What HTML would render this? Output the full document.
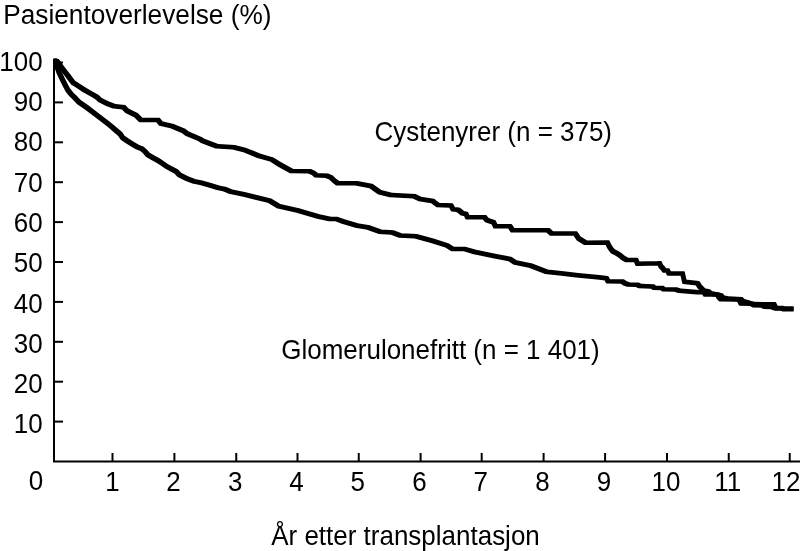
<!DOCTYPE html>
<html><head><meta charset="utf-8"><style>
html,body{margin:0;padding:0;background:#fff;}
svg{display:block;filter:grayscale(1);}
text{font-family:"Liberation Sans",sans-serif;font-size:26px;fill:#000;}
</style></head><body>
<svg width="800" height="551" viewBox="0 0 800 551">
<path d="M54,62.5 V461.5 H800" fill="none" stroke="#000" stroke-width="2"/>
<line x1="112.5" y1="461.5" x2="112.5" y2="453" stroke="#000" stroke-width="2"/>
<line x1="174.4" y1="461.5" x2="174.4" y2="453" stroke="#000" stroke-width="2"/>
<line x1="236.25" y1="461.5" x2="236.25" y2="453" stroke="#000" stroke-width="2"/>
<line x1="297.5" y1="461.5" x2="297.5" y2="453" stroke="#000" stroke-width="2"/>
<line x1="358.75" y1="461.5" x2="358.75" y2="453" stroke="#000" stroke-width="2"/>
<line x1="420.6" y1="461.5" x2="420.6" y2="453" stroke="#000" stroke-width="2"/>
<line x1="481.7" y1="461.5" x2="481.7" y2="453" stroke="#000" stroke-width="2"/>
<line x1="543.6" y1="461.5" x2="543.6" y2="453" stroke="#000" stroke-width="2"/>
<line x1="605.1" y1="461.5" x2="605.1" y2="453" stroke="#000" stroke-width="2"/>
<line x1="667" y1="461.5" x2="667" y2="453" stroke="#000" stroke-width="2"/>
<line x1="728.75" y1="461.5" x2="728.75" y2="453" stroke="#000" stroke-width="2"/>
<line x1="789.75" y1="461.5" x2="789.75" y2="453" stroke="#000" stroke-width="2"/>
<line x1="54" y1="421.6" x2="63" y2="421.6" stroke="#000" stroke-width="2"/>
<line x1="54" y1="381.7" x2="63" y2="381.7" stroke="#000" stroke-width="2"/>
<line x1="54" y1="341.8" x2="63" y2="341.8" stroke="#000" stroke-width="2"/>
<line x1="54" y1="301.9" x2="63" y2="301.9" stroke="#000" stroke-width="2"/>
<line x1="54" y1="262.0" x2="63" y2="262.0" stroke="#000" stroke-width="2"/>
<line x1="54" y1="222.1" x2="63" y2="222.1" stroke="#000" stroke-width="2"/>
<line x1="54" y1="182.2" x2="63" y2="182.2" stroke="#000" stroke-width="2"/>
<line x1="54" y1="142.3" x2="63" y2="142.3" stroke="#000" stroke-width="2"/>
<line x1="54" y1="102.4" x2="63" y2="102.4" stroke="#000" stroke-width="2"/>
<line x1="54" y1="62.5" x2="63" y2="62.5" stroke="#000" stroke-width="2"/>
<path d="M53.05,59.55L53.18,59.05L53.55,58.68L54.05,58.55L56.55,58.55L58.25,58.95L58.75,59.08L59.12,59.45L59.25,59.95L59.25,62.45L59.12,62.95L58.75,63.32L58.25,63.45L55.75,63.45L54.05,63.05L53.55,62.92L53.18,62.55L53.05,62.05ZM54.75,59.95L54.88,59.45L55.25,59.08L55.75,58.95L58.25,58.95L58.75,59.08L59.12,59.45L64.42,66.75L64.55,67.25L64.55,69.75L64.42,70.25L64.05,70.62L63.55,70.75L61.05,70.75L60.55,70.62L60.18,70.25L54.88,62.95L54.75,62.45ZM60.05,67.25L60.18,66.75L60.55,66.38L61.05,66.25L63.55,66.25L64.05,66.38L64.42,66.75L69.12,72.75L69.25,73.25L69.25,75.75L69.12,76.25L68.75,76.62L68.25,76.75L65.75,76.75L65.25,76.62L64.88,76.25L60.18,70.25L60.05,69.75ZM64.75,73.25L64.88,72.75L65.25,72.38L65.75,72.25L68.25,72.25L68.75,72.38L69.12,72.75L75.12,80.85L75.25,81.35L75.25,83.85L75.12,84.35L74.75,84.72L74.25,84.85L71.75,84.85L71.25,84.72L70.88,84.35L64.88,76.25L64.75,75.75ZM70.75,81.35L70.88,80.85L71.25,80.48L71.75,80.35L74.25,80.35L74.75,80.48L77.85,82.38L78.22,82.75L78.35,83.25L78.35,85.75L78.22,86.25L77.85,86.62L77.35,86.75L74.85,86.75L74.35,86.62L71.25,84.72L70.88,84.35L70.75,83.85ZM73.85,83.25L73.98,82.75L74.35,82.38L74.85,82.25L77.35,82.25L77.85,82.38L82.45,85.38L82.82,85.75L82.95,86.25L82.95,88.75L82.82,89.25L82.45,89.62L81.95,89.75L79.45,89.75L78.95,89.62L74.35,86.62L73.98,86.25L73.85,85.75ZM78.45,86.25L78.58,85.75L78.95,85.38L79.45,85.25L81.95,85.25L82.45,85.38L86.05,87.68L86.42,88.05L86.55,88.55L86.55,91.05L86.42,91.55L86.05,91.92L85.55,92.05L83.05,92.05L82.55,91.92L78.95,89.62L78.58,89.25L78.45,88.75ZM82.05,88.55L82.18,88.05L82.55,87.68L83.05,87.55L85.55,87.55L86.05,87.68L89.75,89.88L90.12,90.25L90.25,90.75L90.25,93.25L90.12,93.75L89.75,94.12L89.25,94.25L86.75,94.25L86.25,94.12L82.55,91.92L82.18,91.55L82.05,91.05ZM85.75,90.75L85.88,90.25L86.25,89.88L86.75,89.75L89.25,89.75L89.75,89.88L95.15,92.88L95.52,93.25L95.65,93.75L95.65,96.25L95.52,96.75L95.15,97.12L94.65,97.25L92.15,97.25L91.65,97.12L86.25,94.12L85.88,93.75L85.75,93.25ZM91.15,93.75L91.28,93.25L91.65,92.88L92.15,92.75L94.65,92.75L95.15,92.88L98.75,95.08L99.12,95.45L99.25,95.95L99.25,98.45L99.12,98.95L98.75,99.32L98.25,99.45L95.75,99.45L95.25,99.32L91.65,97.12L91.28,96.75L91.15,96.25ZM94.75,95.95L94.88,95.45L95.25,95.08L95.75,94.95L98.25,94.95L98.75,95.08L101.75,97.88L102.12,98.25L102.25,98.75L102.25,101.25L102.12,101.75L101.75,102.12L101.25,102.25L98.75,102.25L98.25,102.12L95.25,99.32L94.88,98.95L94.75,98.45ZM97.75,98.75L97.88,98.25L98.25,97.88L98.75,97.75L101.25,97.75L101.75,97.88L109.05,101.48L109.42,101.85L109.55,102.35L109.55,104.85L109.42,105.35L109.05,105.72L108.55,105.85L106.05,105.85L105.55,105.72L98.25,102.12L97.88,101.75L97.75,101.25ZM105.05,102.35L105.18,101.85L105.55,101.48L106.05,101.35L108.55,101.35L109.05,101.48L116.25,104.18L116.62,104.55L116.75,105.05L116.75,107.55L116.62,108.05L116.25,108.42L115.75,108.55L113.25,108.55L112.75,108.42L105.55,105.72L105.18,105.35L105.05,104.85ZM112.25,105.05L112.38,104.55L112.75,104.18L113.25,104.05L115.75,104.05L124.85,104.95L125.35,105.08L125.72,105.45L125.85,105.95L125.85,108.45L125.72,108.95L125.35,109.32L124.85,109.45L122.35,109.45L113.25,108.55L112.75,108.42L112.38,108.05L112.25,107.55ZM121.35,105.95L121.48,105.45L121.85,105.08L122.35,104.95L124.85,104.95L125.35,105.08L125.72,105.45L129.32,109.15L129.45,109.65L129.45,112.15L129.32,112.65L128.95,113.02L128.45,113.15L125.95,113.15L125.45,113.02L125.08,112.65L121.48,108.95L121.35,108.45ZM124.95,109.65L125.08,109.15L125.45,108.78L125.95,108.65L128.45,108.65L128.95,108.78L138.05,113.28L138.42,113.65L138.55,114.15L138.55,116.65L138.42,117.15L138.05,117.52L137.55,117.65L135.05,117.65L134.55,117.52L125.45,113.02L125.08,112.65L124.95,112.15ZM134.05,114.15L134.18,113.65L134.55,113.28L135.05,113.15L137.55,113.15L138.05,113.28L138.42,113.65L142.92,118.25L143.05,118.75L143.05,121.25L142.92,121.75L142.55,122.12L142.05,122.25L139.55,122.25L139.05,122.12L138.68,121.75L134.18,117.15L134.05,116.65ZM138.55,118.75L138.68,118.25L139.05,117.88L139.55,117.75L159.25,117.75L159.75,117.88L160.12,118.25L160.25,118.75L160.25,121.25L160.12,121.75L159.75,122.12L159.25,122.25L139.55,122.25L139.05,122.12L138.68,121.75L138.55,121.25ZM155.75,118.75L155.88,118.25L156.25,117.88L156.75,117.75L159.25,117.75L159.75,117.88L160.12,118.25L162.92,121.85L163.05,122.35L163.05,124.85L162.92,125.35L162.55,125.72L162.05,125.85L159.55,125.85L159.05,125.72L158.68,125.35L155.88,121.75L155.75,121.25ZM158.55,122.35L158.68,121.85L159.05,121.48L159.55,121.35L162.05,121.35L173.85,124.05L174.35,124.18L174.72,124.55L174.85,125.05L174.85,127.55L174.72,128.05L174.35,128.42L173.85,128.55L171.35,128.55L159.55,125.85L159.05,125.72L158.68,125.35L158.55,124.85ZM170.35,125.05L170.48,124.55L170.85,124.18L171.35,124.05L173.85,124.05L174.35,124.18L185.25,128.68L185.62,129.05L185.75,129.55L185.75,132.05L185.62,132.55L185.25,132.92L184.75,133.05L182.25,133.05L181.75,132.92L170.85,128.42L170.48,128.05L170.35,127.55ZM181.25,129.55L181.38,129.05L181.75,128.68L182.25,128.55L184.75,128.55L185.25,128.68L188.85,131.48L189.22,131.85L189.35,132.35L189.35,134.85L189.22,135.35L188.85,135.72L188.35,135.85L185.85,135.85L185.35,135.72L181.75,132.92L181.38,132.55L181.25,132.05ZM184.85,132.35L184.98,131.85L185.35,131.48L185.85,131.35L188.35,131.35L188.85,131.48L201.55,136.88L201.92,137.25L202.05,137.75L202.05,140.25L201.92,140.75L201.55,141.12L201.05,141.25L198.55,141.25L198.05,141.12L185.35,135.72L184.98,135.35L184.85,134.85ZM197.55,137.75L197.68,137.25L198.05,136.88L198.55,136.75L201.05,136.75L201.55,136.88L204.45,138.78L204.82,139.15L204.95,139.65L204.95,142.15L204.82,142.65L204.45,143.02L203.95,143.15L201.45,143.15L200.95,143.02L198.05,141.12L197.68,140.75L197.55,140.25ZM200.45,139.65L200.58,139.15L200.95,138.78L201.45,138.65L203.95,138.65L204.45,138.78L218.95,144.18L219.32,144.55L219.45,145.05L219.45,147.55L219.32,148.05L218.95,148.42L218.45,148.55L215.95,148.55L215.45,148.42L200.95,143.02L200.58,142.65L200.45,142.15ZM214.95,145.05L215.08,144.55L215.45,144.18L215.95,144.05L218.45,144.05L234.85,144.95L235.35,145.08L235.72,145.45L235.85,145.95L235.85,148.45L235.72,148.95L235.35,149.32L234.85,149.45L232.35,149.45L215.95,148.55L215.45,148.42L215.08,148.05L214.95,147.55ZM231.35,145.95L231.48,145.45L231.85,145.08L232.35,144.95L234.85,144.95L245.75,147.75L246.25,147.88L246.62,148.25L246.75,148.75L246.75,151.25L246.62,151.75L246.25,152.12L245.75,152.25L243.25,152.25L232.35,149.45L231.85,149.32L231.48,148.95L231.35,148.45ZM242.25,148.75L242.38,148.25L242.75,147.88L243.25,147.75L245.75,147.75L246.25,147.88L260.75,153.78L261.12,154.15L261.25,154.65L261.25,157.15L261.12,157.65L260.75,158.02L260.25,158.15L257.75,158.15L257.25,158.02L242.75,152.12L242.38,151.75L242.25,151.25ZM256.75,154.65L256.88,154.15L257.25,153.78L257.75,153.65L260.25,153.65L260.75,153.78L273.45,157.38L273.82,157.75L273.95,158.25L273.95,160.75L273.82,161.25L273.45,161.62L272.95,161.75L270.45,161.75L269.95,161.62L257.25,158.02L256.88,157.65L256.75,157.15ZM269.45,158.25L269.58,157.75L269.95,157.38L270.45,157.25L272.95,157.25L273.45,157.38L280.75,161.98L281.12,162.35L281.25,162.85L281.25,165.35L281.12,165.85L280.75,166.22L280.25,166.35L277.75,166.35L277.25,166.22L269.95,161.62L269.58,161.25L269.45,160.75ZM276.75,162.85L276.88,162.35L277.25,161.98L277.75,161.85L280.25,161.85L280.75,161.98L293.45,168.98L293.82,169.35L293.95,169.85L293.95,172.35L293.82,172.85L293.45,173.22L292.95,173.35L290.45,173.35L289.95,173.22L277.25,166.22L276.88,165.85L276.75,165.35ZM289.45,169.85L289.58,169.35L289.95,168.98L290.45,168.85L292.95,168.85L311.05,169.05L311.55,169.18L311.92,169.55L312.05,170.05L312.05,172.55L311.92,173.05L311.55,173.42L311.05,173.55L308.55,173.55L290.45,173.35L289.95,173.22L289.58,172.85L289.45,172.35ZM307.55,170.05L307.68,169.55L308.05,169.18L308.55,169.05L311.05,169.05L311.55,169.18L315.25,170.88L315.62,171.25L315.75,171.75L315.75,174.25L315.62,174.75L315.25,175.12L314.75,175.25L312.25,175.25L311.75,175.12L308.05,173.42L307.68,173.05L307.55,172.55ZM311.25,171.75L311.38,171.25L311.75,170.88L312.25,170.75L314.75,170.75L315.25,170.88L317.75,173.08L318.12,173.45L318.25,173.95L318.25,176.45L318.12,176.95L317.75,177.32L317.25,177.45L314.75,177.45L314.25,177.32L311.75,175.12L311.38,174.75L311.25,174.25ZM313.75,173.95L313.88,173.45L314.25,173.08L314.75,172.95L317.25,172.95L328.25,173.55L328.75,173.68L329.12,174.05L329.25,174.55L329.25,177.05L329.12,177.55L328.75,177.92L328.25,178.05L325.75,178.05L314.75,177.45L314.25,177.32L313.88,176.95L313.75,176.45ZM324.75,174.55L324.88,174.05L325.25,173.68L325.75,173.55L328.25,173.55L328.75,173.68L332.75,175.38L333.12,175.75L333.25,176.25L333.25,178.75L333.12,179.25L332.75,179.62L332.25,179.75L329.75,179.75L329.25,179.62L325.25,177.92L324.88,177.55L324.75,177.05ZM328.75,176.25L328.88,175.75L329.25,175.38L329.75,175.25L332.25,175.25L332.75,175.38L336.12,178.75L336.25,179.25L336.25,181.75L336.12,182.25L335.75,182.62L335.25,182.75L332.75,182.75L332.25,182.62L328.88,179.25L328.75,178.75ZM331.75,179.25L331.88,178.75L332.25,178.38L332.75,178.25L335.25,178.25L335.75,178.38L339.25,181.08L339.62,181.45L339.75,181.95L339.75,184.45L339.62,184.95L339.25,185.32L338.75,185.45L336.25,185.45L335.75,185.32L332.25,182.62L331.88,182.25L331.75,181.75ZM335.25,181.95L335.38,181.45L335.75,181.08L336.25,180.95L357.55,180.95L358.05,181.08L358.42,181.45L358.55,181.95L358.55,184.45L358.42,184.95L358.05,185.32L357.55,185.45L336.25,185.45L335.75,185.32L335.38,184.95L335.25,184.45ZM354.05,181.95L354.18,181.45L354.55,181.08L355.05,180.95L357.55,180.95L372.05,183.65L372.55,183.78L372.92,184.15L373.05,184.65L373.05,187.15L372.92,187.65L372.55,188.02L372.05,188.15L369.55,188.15L355.05,185.45L354.55,185.32L354.18,184.95L354.05,184.45ZM368.55,184.65L368.68,184.15L369.05,183.78L369.55,183.65L372.05,183.65L372.55,183.78L381.65,190.18L382.02,190.55L382.15,191.05L382.15,193.55L382.02,194.05L381.65,194.42L381.15,194.55L378.65,194.55L378.15,194.42L369.05,188.02L368.68,187.65L368.55,187.15ZM377.65,191.05L377.78,190.55L378.15,190.18L378.65,190.05L381.15,190.05L392.05,192.75L392.55,192.88L392.92,193.25L393.05,193.75L393.05,196.25L392.92,196.75L392.55,197.12L392.05,197.25L389.55,197.25L378.65,194.55L378.15,194.42L377.78,194.05L377.65,193.55ZM388.55,193.75L388.68,193.25L389.05,192.88L389.55,192.75L392.05,192.75L415.65,194.05L416.15,194.18L416.52,194.55L416.65,195.05L416.65,197.55L416.52,198.05L416.15,198.42L415.65,198.55L413.15,198.55L389.55,197.25L389.05,197.12L388.68,196.75L388.55,196.25ZM412.15,195.05L412.28,194.55L412.65,194.18L413.15,194.05L415.65,194.05L416.15,194.18L421.65,196.88L422.02,197.25L422.15,197.75L422.15,200.25L422.02,200.75L421.65,201.12L421.15,201.25L418.65,201.25L418.15,201.12L412.65,198.42L412.28,198.05L412.15,197.55ZM417.65,197.75L417.78,197.25L418.15,196.88L418.65,196.75L421.15,196.75L433.85,198.65L434.35,198.78L434.72,199.15L434.85,199.65L434.85,202.15L434.72,202.65L434.35,203.02L433.85,203.15L431.35,203.15L418.65,201.25L418.15,201.12L417.78,200.75L417.65,200.25ZM430.35,199.65L430.48,199.15L430.85,198.78L431.35,198.65L433.85,198.65L434.35,198.78L436.25,200.38L436.62,200.75L436.75,201.25L436.75,203.75L436.62,204.25L436.25,204.62L435.75,204.75L433.25,204.75L432.75,204.62L430.85,203.02L430.48,202.65L430.35,202.15ZM432.25,201.25L432.38,200.75L432.75,200.38L433.25,200.25L435.75,200.25L436.25,200.38L439.75,202.88L440.12,203.25L440.25,203.75L440.25,206.25L440.12,206.75L439.75,207.12L439.25,207.25L436.75,207.25L436.25,207.12L432.75,204.62L432.38,204.25L432.25,203.75ZM435.75,203.75L435.88,203.25L436.25,202.88L436.75,202.75L439.25,202.75L452.25,203.35L452.75,203.48L453.12,203.85L453.25,204.35L453.25,206.85L453.12,207.35L452.75,207.72L452.25,207.85L449.75,207.85L436.75,207.25L436.25,207.12L435.88,206.75L435.75,206.25ZM448.75,204.35L448.88,203.85L449.25,203.48L449.75,203.35L452.25,203.35L452.75,203.48L453.12,203.85L455.12,207.45L455.25,207.95L455.25,210.45L455.12,210.95L454.75,211.32L454.25,211.45L451.75,211.45L451.25,211.32L450.88,210.95L448.88,207.35L448.75,206.85ZM450.75,207.95L450.88,207.45L451.25,207.08L451.75,206.95L454.25,206.95L459.25,207.55L459.75,207.68L460.12,208.05L460.25,208.55L460.25,211.05L460.12,211.55L459.75,211.92L459.25,212.05L456.75,212.05L451.75,211.45L451.25,211.32L450.88,210.95L450.75,210.45ZM455.75,208.55L455.88,208.05L456.25,207.68L456.75,207.55L459.25,207.55L459.75,207.68L461.75,209.08L462.12,209.45L462.25,209.95L462.25,212.45L462.12,212.95L461.75,213.32L461.25,213.45L458.75,213.45L458.25,213.32L456.25,211.92L455.88,211.55L455.75,211.05ZM457.75,209.95L457.88,209.45L458.25,209.08L458.75,208.95L461.25,208.95L461.75,209.08L464.25,211.18L464.62,211.55L464.75,212.05L464.75,214.55L464.62,215.05L464.25,215.42L463.75,215.55L461.25,215.55L460.75,215.42L458.25,213.32L457.88,212.95L457.75,212.45ZM460.25,212.05L460.38,211.55L460.75,211.18L461.25,211.05L463.75,211.05L467.25,211.75L467.75,211.88L468.12,212.25L468.25,212.75L468.25,215.25L468.12,215.75L467.75,216.12L467.25,216.25L464.75,216.25L461.25,215.55L460.75,215.42L460.38,215.05L460.25,214.55ZM463.75,212.75L463.88,212.25L464.25,211.88L464.75,211.75L467.25,211.75L467.75,211.88L468.12,212.25L469.62,215.45L469.75,215.95L469.75,218.45L469.62,218.95L469.25,219.32L468.75,219.45L466.25,219.45L465.75,219.32L465.38,218.95L463.88,215.75L463.75,215.25ZM465.25,215.95L465.38,215.45L465.75,215.08L466.25,214.95L485.75,214.95L486.25,215.08L486.62,215.45L486.75,215.95L486.75,218.45L486.62,218.95L486.25,219.32L485.75,219.45L466.25,219.45L465.75,219.32L465.38,218.95L465.25,218.45ZM482.25,215.95L482.38,215.45L482.75,215.08L483.25,214.95L485.75,214.95L486.25,215.08L486.62,215.45L489.12,218.45L489.25,218.95L489.25,221.45L489.12,221.95L488.75,222.32L488.25,222.45L485.75,222.45L485.25,222.32L484.88,221.95L482.38,218.95L482.25,218.45ZM484.75,218.95L484.88,218.45L485.25,218.08L485.75,217.95L488.25,217.95L488.75,218.08L495.35,220.18L495.72,220.55L495.85,221.05L495.85,223.55L495.72,224.05L495.35,224.42L494.85,224.55L492.35,224.55L491.85,224.42L485.25,222.32L484.88,221.95L484.75,221.45ZM491.35,221.05L491.48,220.55L491.85,220.18L492.35,220.05L494.85,220.05L495.35,220.18L495.72,220.55L497.52,224.55L497.65,225.05L497.65,227.55L497.52,228.05L497.15,228.42L496.65,228.55L494.15,228.55L493.65,228.42L493.28,228.05L491.48,224.05L491.35,223.55ZM493.15,225.05L493.28,224.55L493.65,224.18L494.15,224.05L511.15,224.05L511.65,224.18L512.02,224.55L512.15,225.05L512.15,227.55L512.02,228.05L511.65,228.42L511.15,228.55L494.15,228.55L493.65,228.42L493.28,228.05L493.15,227.55ZM507.65,225.05L507.78,224.55L508.15,224.18L508.65,224.05L511.15,224.05L511.65,224.18L512.02,224.55L514.72,228.55L514.85,229.05L514.85,231.55L514.72,232.05L514.35,232.42L513.85,232.55L511.35,232.55L510.85,232.42L510.48,232.05L507.78,228.05L507.65,227.55ZM510.35,229.05L510.48,228.55L510.85,228.18L511.35,228.05L549.35,228.05L549.85,228.18L550.22,228.55L550.35,229.05L550.35,231.55L550.22,232.05L549.85,232.42L549.35,232.55L511.35,232.55L510.85,232.42L510.48,232.05L510.35,231.55ZM545.85,229.05L545.98,228.55L546.35,228.18L546.85,228.05L549.35,228.05L549.85,228.18L553.45,231.48L553.82,231.85L553.95,232.35L553.95,234.85L553.82,235.35L553.45,235.72L552.95,235.85L550.45,235.85L549.95,235.72L546.35,232.42L545.98,232.05L545.85,231.55ZM549.45,232.35L549.58,231.85L549.95,231.48L550.45,231.35L576.55,231.35L577.05,231.48L577.42,231.85L577.55,232.35L577.55,234.85L577.42,235.35L577.05,235.72L576.55,235.85L550.45,235.85L549.95,235.72L549.58,235.35L549.45,234.85ZM573.05,232.35L573.18,231.85L573.55,231.48L574.05,231.35L576.55,231.35L577.05,231.48L577.42,231.85L581.02,236.95L581.15,237.45L581.15,239.95L581.02,240.45L580.65,240.82L580.15,240.95L577.65,240.95L577.15,240.82L576.78,240.45L573.18,235.35L573.05,234.85ZM576.65,237.45L576.78,236.95L577.15,236.58L577.65,236.45L580.15,236.45L580.65,236.58L587.15,240.58L587.52,240.95L587.65,241.45L587.65,243.95L587.52,244.45L587.15,244.82L586.65,244.95L584.15,244.95L583.65,244.82L577.15,240.82L576.78,240.45L576.65,239.95ZM583.15,241.45L583.28,240.95L583.65,240.58L584.15,240.45L606.25,240.35L608.75,240.35L609.25,240.48L609.62,240.85L609.75,241.35L609.75,243.85L609.62,244.35L609.25,244.72L608.75,244.85L586.65,244.95L584.15,244.95L583.65,244.82L583.28,244.45L583.15,243.95ZM605.25,241.35L605.38,240.85L605.75,240.48L606.25,240.35L608.75,240.35L609.25,240.48L609.62,240.85L611.12,244.15L611.25,244.65L611.25,247.15L611.12,247.65L610.75,248.02L610.25,248.15L607.75,248.15L607.25,248.02L606.88,247.65L605.38,244.35L605.25,243.85ZM606.75,244.65L606.88,244.15L607.25,243.78L607.75,243.65L610.25,243.65L610.75,243.78L611.12,244.15L613.12,247.15L613.25,247.65L613.25,250.15L613.12,250.65L612.75,251.02L612.25,251.15L609.75,251.15L609.25,251.02L608.88,250.65L606.88,247.65L606.75,247.15ZM608.75,247.65L608.88,247.15L609.25,246.78L609.75,246.65L612.25,246.65L612.75,246.78L613.12,247.15L615.12,249.65L615.25,250.15L615.25,252.65L615.12,253.15L614.75,253.52L614.25,253.65L611.75,253.65L611.25,253.52L610.88,253.15L608.88,250.65L608.75,250.15ZM610.75,250.15L610.88,249.65L611.25,249.28L611.75,249.15L614.25,249.15L614.75,249.28L618.75,251.28L619.12,251.65L619.25,252.15L619.25,254.65L619.12,255.15L618.75,255.52L618.25,255.65L615.75,255.65L615.25,255.52L611.25,253.52L610.88,253.15L610.75,252.65ZM614.75,252.15L614.88,251.65L615.25,251.28L615.75,251.15L618.25,251.15L618.75,251.28L621.75,253.18L622.12,253.55L622.25,254.05L622.25,256.55L622.12,257.05L621.75,257.42L621.25,257.55L618.75,257.55L618.25,257.42L615.25,255.52L614.88,255.15L614.75,254.65ZM617.75,254.05L617.88,253.55L618.25,253.18L618.75,253.05L621.25,253.05L621.75,253.18L624.75,255.78L625.12,256.15L625.25,256.65L625.25,259.15L625.12,259.65L624.75,260.02L624.25,260.15L621.75,260.15L621.25,260.02L618.25,257.42L617.88,257.05L617.75,256.55ZM620.75,256.65L620.88,256.15L621.25,255.78L621.75,255.65L624.25,255.65L624.75,255.78L628.75,257.98L629.12,258.35L629.25,258.85L629.25,261.35L629.12,261.85L628.75,262.22L628.25,262.35L625.75,262.35L625.25,262.22L621.25,260.02L620.88,259.65L620.75,259.15ZM624.75,258.85L624.88,258.35L625.25,257.98L625.75,257.85L637.25,257.85L637.75,257.98L638.12,258.35L638.25,258.85L638.25,261.35L638.12,261.85L637.75,262.22L637.25,262.35L625.75,262.35L625.25,262.22L624.88,261.85L624.75,261.35ZM633.75,258.85L633.88,258.35L634.25,257.98L634.75,257.85L637.25,257.85L637.75,257.98L638.12,258.35L639.62,261.95L639.75,262.45L639.75,264.95L639.62,265.45L639.25,265.82L638.75,265.95L636.25,265.95L635.75,265.82L635.38,265.45L633.88,261.85L633.75,261.35ZM635.25,262.45L635.38,261.95L635.75,261.58L636.25,261.45L658.25,260.95L660.75,260.95L661.25,261.08L661.62,261.45L661.75,261.95L661.75,264.45L661.62,264.95L661.25,265.32L660.75,265.45L638.75,265.95L636.25,265.95L635.75,265.82L635.38,265.45L635.25,264.95ZM657.25,261.95L657.38,261.45L657.75,261.08L658.25,260.95L660.75,260.95L661.25,261.08L661.62,261.45L663.12,264.65L663.25,265.15L663.25,267.65L663.12,268.15L662.75,268.52L662.25,268.65L659.75,268.65L659.25,268.52L658.88,268.15L657.38,264.95L657.25,264.45ZM658.75,265.15L658.88,264.65L659.25,264.28L659.75,264.15L662.25,264.15L662.75,264.28L665.12,266.65L665.25,267.15L665.25,269.65L665.12,270.15L664.75,270.52L664.25,270.65L661.75,270.65L661.25,270.52L658.88,268.15L658.75,267.65ZM660.75,267.15L660.88,266.65L661.25,266.28L661.75,266.15L664.25,266.15L664.75,266.28L665.12,266.65L666.62,268.85L666.75,269.35L666.75,271.85L666.62,272.35L666.25,272.72L665.75,272.85L663.25,272.85L662.75,272.72L662.38,272.35L660.88,270.15L660.75,269.65ZM662.25,269.35L662.38,268.85L662.75,268.48L663.25,268.35L668.75,268.35L669.25,268.48L669.62,268.85L669.75,269.35L669.75,271.85L669.62,272.35L669.25,272.72L668.75,272.85L663.25,272.85L662.75,272.72L662.38,272.35L662.25,271.85ZM665.25,269.35L665.38,268.85L665.75,268.48L666.25,268.35L668.75,268.35L669.25,268.48L669.62,268.85L671.12,271.65L671.25,272.15L671.25,274.65L671.12,275.15L670.75,275.52L670.25,275.65L667.75,275.65L667.25,275.52L666.88,275.15L665.38,272.35L665.25,271.85ZM666.75,272.15L666.88,271.65L667.25,271.28L667.75,271.15L683.85,271.15L684.35,271.28L684.72,271.65L684.85,272.15L684.85,274.65L684.72,275.15L684.35,275.52L683.85,275.65L667.75,275.65L667.25,275.52L666.88,275.15L666.75,274.65ZM680.35,272.15L680.48,271.65L680.85,271.28L681.35,271.15L683.85,271.15L684.35,271.28L684.72,271.65L684.85,272.15L686.65,280.45L686.65,282.95L686.52,283.45L686.15,283.82L685.65,283.95L683.15,283.95L682.65,283.82L682.28,283.45L682.15,282.95L680.35,274.65ZM682.15,280.45L682.28,279.95L682.65,279.58L683.15,279.45L685.65,279.45L698.85,281L699.35,281.13L699.72,281.5L699.85,282L699.85,284.5L699.72,285L699.35,285.37L698.85,285.5L696.35,285.5L683.15,283.95L682.65,283.82L682.28,283.45L682.15,282.95ZM695.35,282L695.48,281.5L695.85,281.13L696.35,281L698.85,281L699.35,281.13L699.72,281.5L701.72,284.65L701.85,285.15L701.85,287.65L701.72,288.15L701.35,288.52L700.85,288.65L698.35,288.65L697.85,288.52L697.48,288.15L695.48,285L695.35,284.5ZM697.35,285.15L697.48,284.65L697.85,284.28L698.35,284.15L700.85,284.15L701.35,284.28L701.72,284.65L705.62,288.75L705.75,289.25L705.75,291.75L705.62,292.25L705.25,292.62L704.75,292.75L702.25,292.75L701.75,292.62L701.38,292.25L697.48,288.15L697.35,287.65ZM701.25,289.25L701.38,288.75L701.75,288.38L702.25,288.25L704.75,288.25L709.75,289.25L710.25,289.38L710.62,289.75L710.75,290.25L710.75,292.75L710.62,293.25L710.25,293.62L709.75,293.75L707.25,293.75L702.25,292.75L701.75,292.62L701.38,292.25L701.25,291.75ZM706.25,290.25L706.38,289.75L706.75,289.38L707.25,289.25L709.75,289.25L710.25,289.38L712.25,291.23L712.62,291.6L712.75,292.1L712.75,294.6L712.62,295.1L712.25,295.47L711.75,295.6L709.25,295.6L708.75,295.47L706.75,293.62L706.38,293.25L706.25,292.75ZM708.25,292.1L708.38,291.6L708.75,291.23L709.25,291.1L711.75,291.1L717.25,292.25L717.75,292.38L718.12,292.75L718.25,293.25L718.25,295.75L718.12,296.25L717.75,296.62L717.25,296.75L714.75,296.75L709.25,295.6L708.75,295.47L708.38,295.1L708.25,294.6ZM713.75,293.25L713.88,292.75L714.25,292.38L714.75,292.25L717.25,292.25L722.25,293.25L722.75,293.38L723.12,293.75L723.25,294.25L723.25,296.75L723.12,297.25L722.75,297.62L722.25,297.75L719.75,297.75L714.75,296.75L714.25,296.62L713.88,296.25L713.75,295.75ZM718.75,294.25L718.88,293.75L719.25,293.38L719.75,293.25L722.25,293.25L722.75,293.38L723.12,293.75L724.62,295.8L724.75,296.3L724.75,298.8L724.62,299.3L724.25,299.67L723.75,299.8L721.25,299.8L720.75,299.67L720.38,299.3L718.88,297.25L718.75,296.75ZM720.25,296.3L720.38,295.8L720.75,295.43L721.25,295.3L723.75,295.3L728.25,296.25L728.75,296.38L729.12,296.75L729.25,297.25L729.25,299.75L729.12,300.25L728.75,300.62L728.25,300.75L725.75,300.75L721.25,299.8L720.75,299.67L720.38,299.3L720.25,298.8ZM724.75,297.25L724.88,296.75L725.25,296.38L725.75,296.25L728.25,296.25L742.25,297.05L742.75,297.18L743.12,297.55L743.25,298.05L743.25,300.55L743.12,301.05L742.75,301.42L742.25,301.55L739.75,301.55L725.75,300.75L725.25,300.62L724.88,300.25L724.75,299.75ZM738.75,298.05L738.88,297.55L739.25,297.18L739.75,297.05L742.25,297.05L742.75,297.18L745.12,299.55L745.25,300.05L745.25,302.55L745.12,303.05L744.75,303.42L744.25,303.55L741.75,303.55L741.25,303.42L738.88,301.05L738.75,300.55ZM740.75,300.05L740.88,299.55L741.25,299.18L741.75,299.05L744.25,299.05L749.25,300.25L749.75,300.38L750.12,300.75L750.25,301.25L750.25,303.75L750.12,304.25L749.75,304.62L749.25,304.75L746.75,304.75L741.75,303.55L741.25,303.42L740.88,303.05L740.75,302.55ZM745.75,301.25L745.88,300.75L746.25,300.38L746.75,300.25L749.25,300.25L749.75,300.38L753.75,301.98L754.12,302.35L754.25,302.85L754.25,305.35L754.12,305.85L753.75,306.22L753.25,306.35L750.75,306.35L750.25,306.22L746.25,304.62L745.88,304.25L745.75,303.75ZM749.75,302.85L749.88,302.35L750.25,301.98L750.75,301.85L753.25,301.85L775.25,302.05L775.75,302.18L776.12,302.55L776.25,303.05L776.25,305.55L776.12,306.05L775.75,306.42L775.25,306.55L772.75,306.55L750.75,306.35L750.25,306.22L749.88,305.85L749.75,305.35ZM771.75,303.05L771.88,302.55L772.25,302.18L772.75,302.05L775.25,302.05L775.75,302.18L776.12,302.55L778.12,306.65L778.25,307.15L778.25,309.65L778.12,310.15L777.75,310.52L777.25,310.65L774.75,310.65L774.25,310.52L773.88,310.15L771.88,306.05L771.75,305.55ZM773.75,307.15L773.88,306.65L774.25,306.28L774.75,306.15L777.25,306.15L793.6,306.35L793.6,310.85L792.35,310.85L774.75,310.65L774.25,310.52L773.88,310.15L773.75,309.65Z" fill="#000"/>
<path d="M53.05,59.55L53.18,59.05L53.55,58.68L54.05,58.55L56.55,58.55L57.05,58.68L57.42,59.05L57.55,59.55L57.85,61.75L57.85,64.25L57.72,64.75L57.35,65.12L56.85,65.25L54.35,65.25L53.85,65.12L53.48,64.75L53.35,64.25L53.05,62.05ZM53.35,61.75L53.48,61.25L53.85,60.88L54.35,60.75L56.85,60.75L57.35,60.88L57.72,61.25L60.92,70.35L61.05,70.85L61.05,73.35L60.92,73.85L60.55,74.22L60.05,74.35L57.55,74.35L57.05,74.22L56.68,73.85L53.48,64.75L53.35,64.25ZM56.55,70.85L56.68,70.35L57.05,69.98L57.55,69.85L60.05,69.85L60.55,69.98L60.92,70.35L65.52,79.75L65.65,80.25L65.65,82.75L65.52,83.25L65.15,83.62L64.65,83.75L62.15,83.75L61.65,83.62L61.28,83.25L56.68,73.85L56.55,73.35ZM61.15,80.25L61.28,79.75L61.65,79.38L62.15,79.25L64.65,79.25L65.15,79.38L65.52,79.75L67.82,84.25L67.95,84.75L67.95,87.25L67.82,87.75L67.45,88.12L66.95,88.25L64.45,88.25L63.95,88.12L63.58,87.75L61.28,83.25L61.15,82.75ZM63.45,84.75L63.58,84.25L63.95,83.88L64.45,83.75L66.95,83.75L67.45,83.88L67.82,84.25L69.92,88.25L70.05,88.75L70.05,91.25L69.92,91.75L69.55,92.12L69.05,92.25L66.55,92.25L66.05,92.12L65.68,91.75L63.58,87.75L63.45,87.25ZM65.55,88.75L65.68,88.25L66.05,87.88L66.55,87.75L69.05,87.75L69.55,87.88L69.92,88.25L73.52,92.75L73.65,93.25L73.65,95.75L73.52,96.25L73.15,96.62L72.65,96.75L70.15,96.75L69.65,96.62L69.28,96.25L65.68,91.75L65.55,91.25ZM69.15,93.25L69.28,92.75L69.65,92.38L70.15,92.25L72.65,92.25L73.15,92.38L77.25,96.28L77.62,96.65L77.75,97.15L77.75,99.65L77.62,100.15L77.25,100.52L76.75,100.65L74.25,100.65L73.75,100.52L69.65,96.62L69.28,96.25L69.15,95.75ZM73.25,97.15L73.38,96.65L73.75,96.28L74.25,96.15L76.75,96.15L77.25,96.28L77.62,96.65L81.12,100.45L81.25,100.95L81.25,103.45L81.12,103.95L80.75,104.32L80.25,104.45L77.75,104.45L77.25,104.32L76.88,103.95L73.38,100.15L73.25,99.65ZM76.75,100.95L76.88,100.45L77.25,100.08L77.75,99.95L80.25,99.95L80.75,100.08L88.35,105.18L88.72,105.55L88.85,106.05L88.85,108.55L88.72,109.05L88.35,109.42L87.85,109.55L85.35,109.55L84.85,109.42L77.25,104.32L76.88,103.95L76.75,103.45ZM84.35,106.05L84.48,105.55L84.85,105.18L85.35,105.05L87.85,105.05L88.35,105.18L99.65,113.88L100.02,114.25L100.15,114.75L100.15,117.25L100.02,117.75L99.65,118.12L99.15,118.25L96.65,118.25L96.15,118.12L84.85,109.42L84.48,109.05L84.35,108.55ZM95.65,114.75L95.78,114.25L96.15,113.88L96.65,113.75L99.15,113.75L99.65,113.88L110.75,122.38L111.12,122.75L111.25,123.25L111.25,125.75L111.12,126.25L110.75,126.62L110.25,126.75L107.75,126.75L107.25,126.62L96.15,118.12L95.78,117.75L95.65,117.25ZM106.75,123.25L106.88,122.75L107.25,122.38L107.75,122.25L110.25,122.25L110.75,122.38L116.75,127.58L117.12,127.95L117.25,128.45L117.25,130.95L117.12,131.45L116.75,131.82L116.25,131.95L113.75,131.95L113.25,131.82L107.25,126.62L106.88,126.25L106.75,125.75ZM112.75,128.45L112.88,127.95L113.25,127.58L113.75,127.45L116.25,127.45L116.75,127.58L121.75,131.68L122.12,132.05L122.25,132.55L122.25,135.05L122.12,135.55L121.75,135.92L121.25,136.05L118.75,136.05L118.25,135.92L113.25,131.82L112.88,131.45L112.75,130.95ZM117.75,132.55L117.88,132.05L118.25,131.68L118.75,131.55L121.25,131.55L121.75,131.68L122.12,132.05L124.62,135.85L124.75,136.35L124.75,138.85L124.62,139.35L124.25,139.72L123.75,139.85L121.25,139.85L120.75,139.72L120.38,139.35L117.88,135.55L117.75,135.05ZM120.25,136.35L120.38,135.85L120.75,135.48L121.25,135.35L123.75,135.35L124.25,135.48L128.95,138.78L129.32,139.15L129.45,139.65L129.45,142.15L129.32,142.65L128.95,143.02L128.45,143.15L125.95,143.15L125.45,143.02L120.75,139.72L120.38,139.35L120.25,138.85ZM124.95,139.65L125.08,139.15L125.45,138.78L125.95,138.65L128.45,138.65L128.95,138.78L133.75,141.78L134.12,142.15L134.25,142.65L134.25,145.15L134.12,145.65L133.75,146.02L133.25,146.15L130.75,146.15L130.25,146.02L125.45,143.02L125.08,142.65L124.95,142.15ZM129.75,142.65L129.88,142.15L130.25,141.78L130.75,141.65L133.25,141.65L133.75,141.78L138.75,144.68L139.12,145.05L139.25,145.55L139.25,148.05L139.12,148.55L138.75,148.92L138.25,149.05L135.75,149.05L135.25,148.92L130.25,146.02L129.88,145.65L129.75,145.15ZM134.75,145.55L134.88,145.05L135.25,144.68L135.75,144.55L138.25,144.55L138.75,144.68L143.75,146.78L144.12,147.15L144.25,147.65L144.25,150.15L144.12,150.65L143.75,151.02L143.25,151.15L140.75,151.15L140.25,151.02L135.25,148.92L134.88,148.55L134.75,148.05ZM139.75,147.65L139.88,147.15L140.25,146.78L140.75,146.65L143.25,146.65L143.75,146.78L146.75,149.38L147.12,149.75L147.25,150.25L147.25,152.75L147.12,153.25L146.75,153.62L146.25,153.75L143.75,153.75L143.25,153.62L140.25,151.02L139.88,150.65L139.75,150.15ZM142.75,150.25L142.88,149.75L143.25,149.38L143.75,149.25L146.25,149.25L146.75,149.38L147.12,149.75L150.12,153.15L150.25,153.65L150.25,156.15L150.12,156.65L149.75,157.02L149.25,157.15L146.75,157.15L146.25,157.02L145.88,156.65L142.88,153.25L142.75,152.75ZM145.75,153.65L145.88,153.15L146.25,152.78L146.75,152.65L149.25,152.65L149.75,152.78L154.85,155.68L155.22,156.05L155.35,156.55L155.35,159.05L155.22,159.55L154.85,159.92L154.35,160.05L151.85,160.05L151.35,159.92L146.25,157.02L145.88,156.65L145.75,156.15ZM150.85,156.55L150.98,156.05L151.35,155.68L151.85,155.55L154.35,155.55L154.85,155.68L159.95,158.58L160.32,158.95L160.45,159.45L160.45,161.95L160.32,162.45L159.95,162.82L159.45,162.95L156.95,162.95L156.45,162.82L151.35,159.92L150.98,159.55L150.85,159.05ZM155.95,159.45L156.08,158.95L156.45,158.58L156.95,158.45L159.45,158.45L159.95,158.58L164.25,161.38L164.62,161.75L164.75,162.25L164.75,164.75L164.62,165.25L164.25,165.62L163.75,165.75L161.25,165.75L160.75,165.62L156.45,162.82L156.08,162.45L155.95,161.95ZM160.25,162.25L160.38,161.75L160.75,161.38L161.25,161.25L163.75,161.25L164.25,161.38L168.55,164.38L168.92,164.75L169.05,165.25L169.05,167.75L168.92,168.25L168.55,168.62L168.05,168.75L165.55,168.75L165.05,168.62L160.75,165.62L160.38,165.25L160.25,164.75ZM164.55,165.25L164.68,164.75L165.05,164.38L165.55,164.25L168.05,164.25L168.55,164.38L173.95,167.18L174.32,167.55L174.45,168.05L174.45,170.55L174.32,171.05L173.95,171.42L173.45,171.55L170.95,171.55L170.45,171.42L165.05,168.62L164.68,168.25L164.55,167.75ZM169.95,168.05L170.08,167.55L170.45,167.18L170.95,167.05L173.45,167.05L173.95,167.18L177.75,169.18L178.12,169.55L178.25,170.05L178.25,172.55L178.12,173.05L177.75,173.42L177.25,173.55L174.75,173.55L174.25,173.42L170.45,171.42L170.08,171.05L169.95,170.55ZM173.75,170.05L173.88,169.55L174.25,169.18L174.75,169.05L177.25,169.05L177.75,169.18L178.12,169.55L181.12,172.85L181.25,173.35L181.25,175.85L181.12,176.35L180.75,176.72L180.25,176.85L177.75,176.85L177.25,176.72L176.88,176.35L173.88,173.05L173.75,172.55ZM176.75,173.35L176.88,172.85L177.25,172.48L177.75,172.35L180.25,172.35L180.75,172.48L188.05,176.18L188.42,176.55L188.55,177.05L188.55,179.55L188.42,180.05L188.05,180.42L187.55,180.55L185.05,180.55L184.55,180.42L177.25,176.72L176.88,176.35L176.75,175.85ZM184.05,177.05L184.18,176.55L184.55,176.18L185.05,176.05L187.55,176.05L188.05,176.18L195.25,179.08L195.62,179.45L195.75,179.95L195.75,182.45L195.62,182.95L195.25,183.32L194.75,183.45L192.25,183.45L191.75,183.32L184.55,180.42L184.18,180.05L184.05,179.55ZM191.25,179.95L191.38,179.45L191.75,179.08L192.25,178.95L194.75,178.95L203.55,180.85L204.05,180.98L204.42,181.35L204.55,181.85L204.55,184.35L204.42,184.85L204.05,185.22L203.55,185.35L201.05,185.35L192.25,183.45L191.75,183.32L191.38,182.95L191.25,182.45ZM200.05,181.85L200.18,181.35L200.55,180.98L201.05,180.85L203.55,180.85L204.05,180.98L211.25,183.08L211.62,183.45L211.75,183.95L211.75,186.45L211.62,186.95L211.25,187.32L210.75,187.45L208.25,187.45L207.75,187.32L200.55,185.22L200.18,184.85L200.05,184.35ZM207.25,183.95L207.38,183.45L207.75,183.08L208.25,182.95L210.75,182.95L211.25,183.08L218.55,185.28L218.92,185.65L219.05,186.15L219.05,188.65L218.92,189.15L218.55,189.52L218.05,189.65L215.55,189.65L215.05,189.52L207.75,187.32L207.38,186.95L207.25,186.45ZM214.55,186.15L214.68,185.65L215.05,185.28L215.55,185.15L218.05,185.15L225.25,186.65L225.75,186.78L226.12,187.15L226.25,187.65L226.25,190.15L226.12,190.65L225.75,191.02L225.25,191.15L222.75,191.15L215.55,189.65L215.05,189.52L214.68,189.15L214.55,188.65ZM221.75,187.65L221.88,187.15L222.25,186.78L222.75,186.65L225.25,186.65L225.75,186.78L233.05,189.68L233.42,190.05L233.55,190.55L233.55,193.05L233.42,193.55L233.05,193.92L232.55,194.05L230.05,194.05L229.55,193.92L222.25,191.02L221.88,190.65L221.75,190.15ZM229.05,190.55L229.18,190.05L229.55,189.68L230.05,189.55L232.55,189.55L239.75,190.95L240.25,191.08L240.62,191.45L240.75,191.95L240.75,194.45L240.62,194.95L240.25,195.32L239.75,195.45L237.25,195.45L230.05,194.05L229.55,193.92L229.18,193.55L229.05,193.05ZM236.25,191.95L236.38,191.45L236.75,191.08L237.25,190.95L239.75,190.95L245.75,192.25L246.25,192.38L246.62,192.75L246.75,193.25L246.75,195.75L246.62,196.25L246.25,196.62L245.75,196.75L243.25,196.75L237.25,195.45L236.75,195.32L236.38,194.95L236.25,194.45ZM242.25,193.25L242.38,192.75L242.75,192.38L243.25,192.25L245.75,192.25L271.15,198.55L271.65,198.68L272.02,199.05L272.15,199.55L272.15,202.05L272.02,202.55L271.65,202.92L271.15,203.05L268.65,203.05L243.25,196.75L242.75,196.62L242.38,196.25L242.25,195.75ZM267.65,199.55L267.78,199.05L268.15,198.68L268.65,198.55L271.15,198.55L271.65,198.68L280.75,204.18L281.12,204.55L281.25,205.05L281.25,207.55L281.12,208.05L280.75,208.42L280.25,208.55L277.75,208.55L277.25,208.42L268.15,202.92L267.78,202.55L267.65,202.05ZM276.75,205.05L276.88,204.55L277.25,204.18L277.75,204.05L280.25,204.05L300.25,208.55L300.75,208.68L301.12,209.05L301.25,209.55L301.25,212.05L301.12,212.55L300.75,212.92L300.25,213.05L297.75,213.05L277.75,208.55L277.25,208.42L276.88,208.05L276.75,207.55ZM296.75,209.55L296.88,209.05L297.25,208.68L297.75,208.55L300.25,208.55L300.75,208.68L318.85,214.08L319.22,214.45L319.35,214.95L319.35,217.45L319.22,217.95L318.85,218.32L318.35,218.45L315.85,218.45L315.35,218.32L297.25,212.92L296.88,212.55L296.75,212.05ZM314.85,214.95L314.98,214.45L315.35,214.08L315.85,213.95L318.35,213.95L331.25,216.75L331.75,216.88L332.12,217.25L332.25,217.75L332.25,220.25L332.12,220.75L331.75,221.12L331.25,221.25L328.75,221.25L315.85,218.45L315.35,218.32L314.98,217.95L314.85,217.45ZM327.75,217.75L327.88,217.25L328.25,216.88L328.75,216.75L337.55,216.75L338.05,216.88L338.42,217.25L338.55,217.75L338.55,220.25L338.42,220.75L338.05,221.12L337.55,221.25L328.75,221.25L328.25,221.12L327.88,220.75L327.75,220.25ZM334.05,217.75L334.18,217.25L334.55,216.88L335.05,216.75L337.55,216.75L338.05,216.88L345.35,219.58L345.72,219.95L345.85,220.45L345.85,222.95L345.72,223.45L345.35,223.82L344.85,223.95L342.35,223.95L341.85,223.82L334.55,221.12L334.18,220.75L334.05,220.25ZM341.35,220.45L341.48,219.95L341.85,219.58L342.35,219.45L344.85,219.45L345.35,219.58L358.05,223.28L358.42,223.65L358.55,224.15L358.55,226.65L358.42,227.15L358.05,227.52L357.55,227.65L355.05,227.65L354.55,227.52L341.85,223.82L341.48,223.45L341.35,222.95ZM354.05,224.15L354.18,223.65L354.55,223.28L355.05,223.15L357.55,223.15L368.45,224.95L368.95,225.08L369.32,225.45L369.45,225.95L369.45,228.45L369.32,228.95L368.95,229.32L368.45,229.45L365.95,229.45L355.05,227.65L354.55,227.52L354.18,227.15L354.05,226.65ZM364.95,225.95L365.08,225.45L365.45,225.08L365.95,224.95L368.45,224.95L368.95,225.08L381.65,229.58L382.02,229.95L382.15,230.45L382.15,232.95L382.02,233.45L381.65,233.82L381.15,233.95L378.65,233.95L378.15,233.82L365.45,229.32L365.08,228.95L364.95,228.45ZM377.65,230.45L377.78,229.95L378.15,229.58L378.65,229.45L381.15,229.45L393.85,230.35L394.35,230.48L394.72,230.85L394.85,231.35L394.85,233.85L394.72,234.35L394.35,234.72L393.85,234.85L391.35,234.85L378.65,233.95L378.15,233.82L377.78,233.45L377.65,232.95ZM390.35,231.35L390.48,230.85L390.85,230.48L391.35,230.35L393.85,230.35L394.35,230.48L401.65,233.28L402.02,233.65L402.15,234.15L402.15,236.65L402.02,237.15L401.65,237.52L401.15,237.65L398.65,237.65L398.15,237.52L390.85,234.72L390.48,234.35L390.35,233.85ZM397.65,234.15L397.78,233.65L398.15,233.28L398.65,233.15L401.15,233.15L417.45,234.05L417.95,234.18L418.32,234.55L418.45,235.05L418.45,237.55L418.32,238.05L417.95,238.42L417.45,238.55L414.95,238.55L398.65,237.65L398.15,237.52L397.78,237.15L397.65,236.65ZM413.95,235.05L414.08,234.55L414.45,234.18L414.95,234.05L417.45,234.05L417.95,234.18L434.35,238.68L434.72,239.05L434.85,239.55L434.85,242.05L434.72,242.55L434.35,242.92L433.85,243.05L431.35,243.05L430.85,242.92L414.45,238.42L414.08,238.05L413.95,237.55ZM430.35,239.55L430.48,239.05L430.85,238.68L431.35,238.55L433.85,238.55L434.35,238.68L448.85,243.38L449.22,243.75L449.35,244.25L449.35,246.75L449.22,247.25L448.85,247.62L448.35,247.75L445.85,247.75L445.35,247.62L430.85,242.92L430.48,242.55L430.35,242.05ZM444.85,244.25L444.98,243.75L445.35,243.38L445.85,243.25L448.35,243.25L448.85,243.38L454.35,246.88L454.72,247.25L454.85,247.75L454.85,250.25L454.72,250.75L454.35,251.12L453.85,251.25L451.35,251.25L450.85,251.12L445.35,247.62L444.98,247.25L444.85,246.75ZM450.35,247.75L450.48,247.25L450.85,246.88L451.35,246.75L465.75,246.75L466.25,246.88L466.62,247.25L466.75,247.75L466.75,250.25L466.62,250.75L466.25,251.12L465.75,251.25L451.35,251.25L450.85,251.12L450.48,250.75L450.35,250.25ZM462.25,247.75L462.38,247.25L462.75,246.88L463.25,246.75L465.75,246.75L466.25,246.88L475.35,249.58L475.72,249.95L475.85,250.45L475.85,252.95L475.72,253.45L475.35,253.82L474.85,253.95L472.35,253.95L471.85,253.82L462.75,251.12L462.38,250.75L462.25,250.25ZM471.35,250.45L471.48,249.95L471.85,249.58L472.35,249.45L474.85,249.45L496.65,254.05L497.15,254.18L497.52,254.55L497.65,255.05L497.65,257.55L497.52,258.05L497.15,258.42L496.65,258.55L494.15,258.55L472.35,253.95L471.85,253.82L471.48,253.45L471.35,252.95ZM493.15,255.05L493.28,254.55L493.65,254.18L494.15,254.05L496.65,254.05L511.15,256.75L511.65,256.88L512.02,257.25L512.15,257.75L512.15,260.25L512.02,260.75L511.65,261.12L511.15,261.25L508.65,261.25L494.15,258.55L493.65,258.42L493.28,258.05L493.15,257.55ZM507.65,257.75L507.78,257.25L508.15,256.88L508.65,256.75L511.15,256.75L511.65,256.88L517.15,260.48L517.52,260.85L517.65,261.35L517.65,263.85L517.52,264.35L517.15,264.72L516.65,264.85L514.15,264.85L513.65,264.72L508.15,261.12L507.78,260.75L507.65,260.25ZM513.15,261.35L513.28,260.85L513.65,260.48L514.15,260.35L516.65,260.35L531.15,263.15L531.65,263.28L532.02,263.65L532.15,264.15L532.15,266.65L532.02,267.15L531.65,267.52L531.15,267.65L528.65,267.65L514.15,264.85L513.65,264.72L513.28,264.35L513.15,263.85ZM527.65,264.15L527.78,263.65L528.15,263.28L528.65,263.15L531.15,263.15L531.65,263.28L547.95,269.58L548.32,269.95L548.45,270.45L548.45,272.95L548.32,273.45L547.95,273.82L547.45,273.95L544.95,273.95L544.45,273.82L528.15,267.52L527.78,267.15L527.65,266.65ZM543.95,270.45L544.08,269.95L544.45,269.58L544.95,269.45L547.45,269.45L563.85,271.25L564.35,271.38L564.72,271.75L564.85,272.25L564.85,274.75L564.72,275.25L564.35,275.62L563.85,275.75L561.35,275.75L544.95,273.95L544.45,273.82L544.08,273.45L543.95,272.95ZM560.35,272.25L560.48,271.75L560.85,271.38L561.35,271.25L563.85,271.25L578.35,273.05L578.85,273.18L579.22,273.55L579.35,274.05L579.35,276.55L579.22,277.05L578.85,277.42L578.35,277.55L575.85,277.55L561.35,275.75L560.85,275.62L560.48,275.25L560.35,274.75ZM574.85,274.05L574.98,273.55L575.35,273.18L575.85,273.05L578.35,273.05L599.45,275.05L599.95,275.18L600.32,275.55L600.45,276.05L600.45,278.55L600.32,279.05L599.95,279.42L599.45,279.55L596.95,279.55L575.85,277.55L575.35,277.42L574.98,277.05L574.85,276.55ZM595.95,276.05L596.08,275.55L596.45,275.18L596.95,275.05L599.45,275.05L607.75,276.05L608.25,276.18L608.62,276.55L608.75,277.05L608.75,279.55L608.62,280.05L608.25,280.42L607.75,280.55L605.25,280.55L596.95,279.55L596.45,279.42L596.08,279.05L595.95,278.55ZM604.25,277.05L604.38,276.55L604.75,276.18L605.25,276.05L607.75,276.05L608.25,276.18L608.62,276.55L610.12,279.45L610.25,279.95L610.25,282.45L610.12,282.95L609.75,283.32L609.25,283.45L606.75,283.45L606.25,283.32L605.88,282.95L604.38,280.05L604.25,279.55ZM605.75,279.95L605.88,279.45L606.25,279.08L606.75,278.95L609.25,278.95L623.75,279.35L624.25,279.48L624.62,279.85L624.75,280.35L624.75,282.85L624.62,283.35L624.25,283.72L623.75,283.85L621.25,283.85L606.75,283.45L606.25,283.32L605.88,282.95L605.75,282.45ZM620.25,280.35L620.38,279.85L620.75,279.48L621.25,279.35L623.75,279.35L624.25,279.48L626.75,281.28L627.12,281.65L627.25,282.15L627.25,284.65L627.12,285.15L626.75,285.52L626.25,285.65L623.75,285.65L623.25,285.52L620.75,283.72L620.38,283.35L620.25,282.85ZM622.75,282.15L622.88,281.65L623.25,281.28L623.75,281.15L626.25,281.15L626.75,281.28L629.75,282.28L630.12,282.65L630.25,283.15L630.25,285.65L630.12,286.15L629.75,286.52L629.25,286.65L626.75,286.65L626.25,286.52L623.25,285.52L622.88,285.15L622.75,284.65ZM625.75,283.15L625.88,282.65L626.25,282.28L626.75,282.15L629.25,282.15L638.75,282.55L639.25,282.68L639.62,283.05L639.75,283.55L639.75,286.05L639.62,286.55L639.25,286.92L638.75,287.05L636.25,287.05L626.75,286.65L626.25,286.52L625.88,286.15L625.75,285.65ZM635.25,283.55L635.38,283.05L635.75,282.68L636.25,282.55L638.75,282.55L639.25,282.68L641.75,283.98L642.12,284.35L642.25,284.85L642.25,287.35L642.12,287.85L641.75,288.22L641.25,288.35L638.75,288.35L638.25,288.22L635.75,286.92L635.38,286.55L635.25,286.05ZM637.75,284.85L637.88,284.35L638.25,283.98L638.75,283.85L641.25,283.85L653.85,284.15L654.35,284.28L654.72,284.65L654.85,285.15L654.85,287.65L654.72,288.15L654.35,288.52L653.85,288.65L651.35,288.65L638.75,288.35L638.25,288.22L637.88,287.85L637.75,287.35ZM650.35,285.15L650.48,284.65L650.85,284.28L651.35,284.15L653.85,284.15L654.35,284.28L655.75,285.58L656.12,285.95L656.25,286.45L656.25,288.95L656.12,289.45L655.75,289.82L655.25,289.95L652.75,289.95L652.25,289.82L650.85,288.52L650.48,288.15L650.35,287.65ZM651.75,286.45L651.88,285.95L652.25,285.58L652.75,285.45L655.25,285.45L663.25,285.75L663.75,285.88L664.12,286.25L664.25,286.75L664.25,289.25L664.12,289.75L663.75,290.12L663.25,290.25L660.75,290.25L652.75,289.95L652.25,289.82L651.88,289.45L651.75,288.95ZM659.75,286.75L659.88,286.25L660.25,285.88L660.75,285.75L663.25,285.75L663.75,285.88L665.25,287.08L665.62,287.45L665.75,287.95L665.75,290.45L665.62,290.95L665.25,291.32L664.75,291.45L662.25,291.45L661.75,291.32L660.25,290.12L659.88,289.75L659.75,289.25ZM661.25,287.95L661.38,287.45L661.75,287.08L662.25,286.95L664.75,286.95L677.25,287.35L677.75,287.48L678.12,287.85L678.25,288.35L678.25,290.85L678.12,291.35L677.75,291.72L677.25,291.85L674.75,291.85L662.25,291.45L661.75,291.32L661.38,290.95L661.25,290.45ZM673.75,288.35L673.88,287.85L674.25,287.48L674.75,287.35L677.25,287.35L677.75,287.48L681.65,288.68L682.02,289.05L682.15,289.55L682.15,292.05L682.02,292.55L681.65,292.92L681.15,293.05L678.65,293.05L678.15,292.92L674.25,291.72L673.88,291.35L673.75,290.85ZM677.65,289.55L677.78,289.05L678.15,288.68L678.65,288.55L681.15,288.55L699.25,290.05L699.75,290.18L700.12,290.55L700.25,291.05L700.25,293.55L700.12,294.05L699.75,294.42L699.25,294.55L696.75,294.55L678.65,293.05L678.15,292.92L677.78,292.55L677.65,292.05ZM695.75,291.05L695.88,290.55L696.25,290.18L696.75,290.05L705.25,290.05L705.75,290.18L706.12,290.55L706.25,291.05L706.25,293.55L706.12,294.05L705.75,294.42L705.25,294.55L696.75,294.55L696.25,294.42L695.88,294.05L695.75,293.55ZM701.75,291.05L701.88,290.55L702.25,290.18L702.75,290.05L705.25,290.05L705.75,290.18L706.12,290.55L707.62,292.85L707.75,293.35L707.75,295.85L707.62,296.35L707.25,296.72L706.75,296.85L704.25,296.85L703.75,296.72L703.38,296.35L701.88,294.05L701.75,293.55ZM703.25,293.35L703.38,292.85L703.75,292.48L704.25,292.35L718.75,292.35L719.25,292.48L719.62,292.85L719.75,293.35L719.75,295.85L719.62,296.35L719.25,296.72L718.75,296.85L704.25,296.85L703.75,296.72L703.38,296.35L703.25,295.85ZM715.25,293.35L715.38,292.85L715.75,292.48L716.25,292.35L718.75,292.35L719.25,292.48L719.62,292.85L721.12,295.75L721.25,296.25L721.25,298.75L721.12,299.25L720.75,299.62L720.25,299.75L717.75,299.75L717.25,299.62L716.88,299.25L715.38,296.35L715.25,295.85ZM716.75,296.25L716.88,295.75L717.25,295.38L717.75,295.25L720.25,295.25L720.75,295.38L722.75,297.18L723.12,297.55L723.25,298.05L723.25,300.55L723.12,301.05L722.75,301.42L722.25,301.55L719.75,301.55L719.25,301.42L717.25,299.62L716.88,299.25L716.75,298.75ZM718.75,298.05L718.88,297.55L719.25,297.18L719.75,297.05L722.25,297.05L740.25,297.25L740.75,297.38L741.12,297.75L741.25,298.25L741.25,300.75L741.12,301.25L740.75,301.62L740.25,301.75L737.75,301.75L719.75,301.55L719.25,301.42L718.88,301.05L718.75,300.55ZM736.75,298.25L736.88,297.75L737.25,297.38L737.75,297.25L740.25,297.25L740.75,297.38L741.12,297.75L743.12,301.65L743.25,302.15L743.25,304.65L743.12,305.15L742.75,305.52L742.25,305.65L739.75,305.65L739.25,305.52L738.88,305.15L736.88,301.25L736.75,300.75ZM738.75,302.15L738.88,301.65L739.25,301.28L739.75,301.15L742.25,301.15L753.25,301.55L753.75,301.68L754.12,302.05L754.25,302.55L754.25,305.05L754.12,305.55L753.75,305.92L753.25,306.05L750.75,306.05L739.75,305.65L739.25,305.52L738.88,305.15L738.75,304.65ZM749.75,302.55L749.88,302.05L750.25,301.68L750.75,301.55L753.25,301.55L753.75,301.68L755.75,303.13L756.12,303.5L756.25,304L756.25,306.5L756.12,307L755.75,307.37L755.25,307.5L752.75,307.5L752.25,307.37L750.25,305.92L749.88,305.55L749.75,305.05ZM751.75,304L751.88,303.5L752.25,303.13L752.75,303L755.25,303L764.25,303.35L764.75,303.48L765.12,303.85L765.25,304.35L765.25,306.85L765.12,307.35L764.75,307.72L764.25,307.85L761.75,307.85L752.75,307.5L752.25,307.37L751.88,307L751.75,306.5ZM760.75,304.35L760.88,303.85L761.25,303.48L761.75,303.35L764.25,303.35L764.75,303.48L766.75,304.68L767.12,305.05L767.25,305.55L767.25,308.05L767.12,308.55L766.75,308.92L766.25,309.05L763.75,309.05L763.25,308.92L761.25,307.72L760.88,307.35L760.75,306.85ZM762.75,305.55L762.88,305.05L763.25,304.68L763.75,304.55L766.25,304.55L773.25,304.75L773.75,304.88L774.12,305.25L774.25,305.75L774.25,308.25L774.12,308.75L773.75,309.12L773.25,309.25L770.75,309.25L763.75,309.05L763.25,308.92L762.88,308.55L762.75,308.05ZM769.75,305.75L769.88,305.25L770.25,304.88L770.75,304.75L773.25,304.75L773.75,304.88L775.75,305.78L776.12,306.15L776.25,306.65L776.25,309.15L776.12,309.65L775.75,310.02L775.25,310.15L772.75,310.15L772.25,310.02L770.25,309.12L769.88,308.75L769.75,308.25ZM771.75,306.65L771.88,306.15L772.25,305.78L772.75,305.65L775.25,305.65L783.25,305.85L783.75,305.98L784.12,306.35L784.25,306.85L784.25,309.35L784.12,309.85L783.75,310.22L783.25,310.35L780.75,310.35L772.75,310.15L772.25,310.02L771.88,309.65L771.75,309.15ZM779.75,306.85L779.88,306.35L780.25,305.98L780.75,305.85L783.25,305.85L783.75,305.98L785.75,307.23L786.12,307.6L786.25,308.1L786.25,310.6L786.12,311.1L785.75,311.47L785.25,311.6L782.75,311.6L782.25,311.47L780.25,310.22L779.88,309.85L779.75,309.35ZM781.75,308.1L781.88,307.6L782.25,307.23L782.75,307.1L793.6,307.1L793.6,311.6L782.75,311.6L782.25,311.47L781.88,311.1L781.75,310.6Z" fill="#000"/>
<text x="3.2" y="24.1" style="font-size:26.25px" transform="matrix(1,0,0,1.035,0,-0.843)">Pasientoverlevelse (%)</text>
<text x="42.6" y="433.30" text-anchor="end" transform="matrix(1,0,0,1.035,0,-15.165)">10</text>
<text x="42.6" y="393.04" text-anchor="end" transform="matrix(1,0,0,1.035,0,-13.756)">20</text>
<text x="42.6" y="352.78" text-anchor="end" transform="matrix(1,0,0,1.035,0,-12.347)">30</text>
<text x="42.6" y="312.52" text-anchor="end" transform="matrix(1,0,0,1.035,0,-10.938)">40</text>
<text x="42.6" y="272.26" text-anchor="end" transform="matrix(1,0,0,1.035,0,-9.529)">50</text>
<text x="42.6" y="232.00" text-anchor="end" transform="matrix(1,0,0,1.035,0,-8.120)">60</text>
<text x="42.6" y="191.74" text-anchor="end" transform="matrix(1,0,0,1.035,0,-6.711)">70</text>
<text x="42.6" y="151.48" text-anchor="end" transform="matrix(1,0,0,1.035,0,-5.302)">80</text>
<text x="42.6" y="111.22" text-anchor="end" transform="matrix(1,0,0,1.035,0,-3.893)">90</text>
<text x="42.6" y="70.96" text-anchor="end" transform="matrix(1,0,0,1.035,0,-2.484)">100</text>
<text x="36" y="489.80" text-anchor="middle" transform="matrix(1,0,0,1.035,0,-17.143)">0</text>
<text x="112.5" y="490.80" text-anchor="middle" transform="matrix(1,0,0,1.035,0,-17.178)">1</text>
<text x="173.4" y="490.80" text-anchor="middle" transform="matrix(1,0,0,1.035,0,-17.178)">2</text>
<text x="235.25" y="490.80" text-anchor="middle" transform="matrix(1,0,0,1.035,0,-17.178)">3</text>
<text x="296.5" y="490.80" text-anchor="middle" transform="matrix(1,0,0,1.035,0,-17.178)">4</text>
<text x="357.75" y="490.80" text-anchor="middle" transform="matrix(1,0,0,1.035,0,-17.178)">5</text>
<text x="419.6" y="490.80" text-anchor="middle" transform="matrix(1,0,0,1.035,0,-17.178)">6</text>
<text x="480.7" y="490.80" text-anchor="middle" transform="matrix(1,0,0,1.035,0,-17.178)">7</text>
<text x="542.6" y="490.80" text-anchor="middle" transform="matrix(1,0,0,1.035,0,-17.178)">8</text>
<text x="604.1" y="490.80" text-anchor="middle" transform="matrix(1,0,0,1.035,0,-17.178)">9</text>
<text x="666.0" y="490.80" text-anchor="middle" transform="matrix(1,0,0,1.035,0,-17.178)">10</text>
<text x="727.75" y="490.80" text-anchor="middle" transform="matrix(1,0,0,1.035,0,-17.178)">11</text>
<text x="786" y="490.80" text-anchor="middle" transform="matrix(1,0,0,1.035,0,-17.178)">12</text>
<text x="374.5" y="141.00" text-anchor="start" transform="matrix(1,0,0,1.035,0,-4.935)">Cystenyrer (n = 375)</text>
<text x="281.3" y="358.90" text-anchor="start" transform="matrix(1,0,0,1.035,0,-12.561)">Glomerulonefritt (n = 1 401)</text>
<text x="271.2" y="545.00" text-anchor="start" transform="matrix(1,0,0,1.035,0,-19.075)">År etter transplantasjon</text>
</svg>
</body></html>
